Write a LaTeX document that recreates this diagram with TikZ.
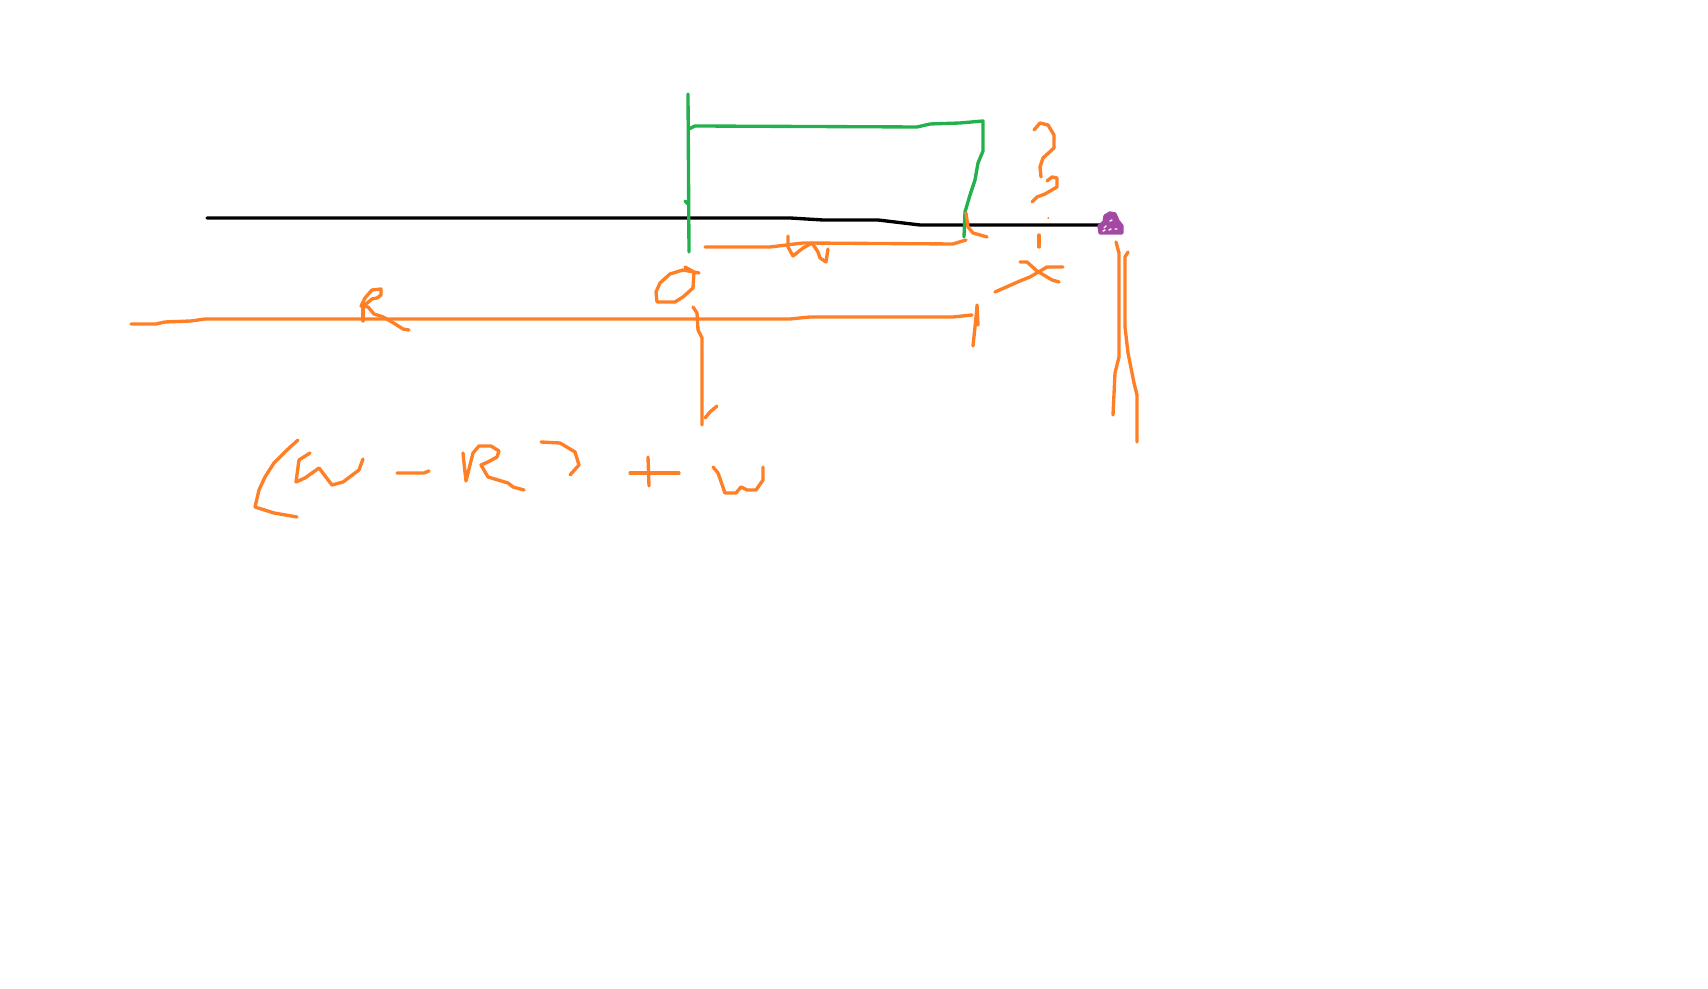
\documentclass[tikz,border=0pt]{standalone}
\usepackage{tikz}
\usepackage{xcolor}
\definecolor{myorange}{RGB}{255,127,39}
\definecolor{mygreen}{RGB}{34,177,76}
\definecolor{mypurple}{RGB}{163,73,164}

\begin{document}
\begin{tikzpicture}[x=0.01cm,y=-0.01cm,line width=0.95pt,line join=round,line cap=round,
    orangeline/.style={myorange},greenline/.style={mygreen},purpleline/.style={mypurple}]
  \useasboundingbox (0,0) rectangle (1708,989);
  % axis
  \draw (207,218)--(790,218)--(823,220)--(878,220)--(920,225)--(1100,225);
  % box
  \draw[greenline] (688,94)--(689,252);
  \draw[greenline] (685,201)--(688,204);
  \draw[greenline] (689,129)--(695,126)--(917,127)--(930,124)--(960,123)--(983,121)--(983,151)--(978,163)--(975,180)--(970,195)--(965,212)--(964,237);
  % point
  \filldraw[purpleline] (1100,233)--(1099,226)--(1104,222)--(1105,216)--(1110,213)--(1115,214)--(1118,221)--(1122,226)--(1122,233)--cycle;
  \draw[white,line width=0.4pt] (1104,228)--(1106,226) (1103,231)--(1105,230) (1109,230)--(1111,229) (1115,229)--(1117,229) (1110,221)--(1112,220);
  % w span
  \draw[orangeline] (705,247)--(770,247)--(803,243)--(953,244)--(966,240);
  \draw[orangeline] (788,236)--(788,247)--(793,256)--(803,248)--(812,243)--(818,252)--(820,258)--(826,262)--(828,249);
  \draw[orangeline] (966,213)--(968,227)--(973,233)--(987,237);
  % O
  \draw[orangeline] (699,273)--(683,270)--(670,274)--(660,283)--(656,292)--(657,302)--(675,302)--(683,297)--(693,288)--(694,272)--(685,267);
  \draw[orangeline] (693,307)--(697,313)--(698,330)--(702,338)--(702,425);
  \draw[orangeline] (705,418)--(710,412)--(717,406);
  % R span
  \draw[orangeline] (131,324)--(156,324)--(165,322)--(191,321)--(205,319)--(773,319)--(790,319)--(810,317)--(953,317)--(972,315);
  \draw[orangeline] (977,305)--(978,325);
  \draw[orangeline] (977,307)--(975,327)--(973,346);
  \draw[orangeline] (363,305)--(363,321);
  \draw[orangeline] (361,306)--(365,298)--(372,290)--(381,289)--(381,295)--(377,298)--(372,299)--(366,304)--(361,306)--(368,307)--(374,314)--(383,317)--(392,322)--(403,329)--(409,330);
  % x
  \draw[orangeline] (1020,262)--(1027,262)--(1037,271)--(1052,280)--(1059,282);
  \draw[orangeline] (995,292)--(1020,281)--(1030,277)--(1047,267)--(1063,267);
  % question mark
  \draw[orangeline] (1034,130)--(1040,123)--(1048,125)--(1054,135)--(1054,148)--(1043,158)--(1040,167)--(1041,177);
  \draw[orangeline] (1047,181)--(1052,177)--(1057,178)--(1057,187)--(1045,194)--(1037,197)--(1032,202);
  \draw[orangeline,line width=0.3pt] (1048,218)--(1048.5,218);
  \draw[orangeline] (1039,235)--(1039,247);
  % arrow at point
  \draw[orangeline] (1116,242)--(1119,253)--(1119,357)--(1115,373)--(1113,415);
  \draw[orangeline] (1128,252)--(1125,257)--(1125,327)--(1128,353)--(1134,383)--(1137,395)--(1137,442);
  % formula
  \draw[orangeline] (298,440)--(287,450)--(274,463)--(265,477)--(259,490)--(255,507)--(274,513)--(297,517);
  \draw[orangeline] (310,453)--(299,460)--(296,482)--(305,478)--(319,468)--(332,485)--(343,482)--(359,470)--(363,459);
  \draw[orangeline] (397,473)--(424,473)--(429,471);
  \draw[orangeline] (463,453)--(464,463)--(466,481)--(473,453)--(479,446)--(491,446)--(499,451)--(497,457)--(488,462)--(481,465)--(488,477)--(508,483)--(513,487)--(524,490);
  \draw[orangeline] (541,442)--(560,443)--(575,452)--(579,465)--(570,475);
  \draw[orangeline] (630,473)--(679,473);
  \draw[orangeline] (648,457)--(649,486);
  \draw[orangeline] (713,467)--(718,473)--(725,493)--(736,493)--(741,487)--(747,490)--(756,490)--(763,480)--(763,467);
\end{tikzpicture}
\end{document}
